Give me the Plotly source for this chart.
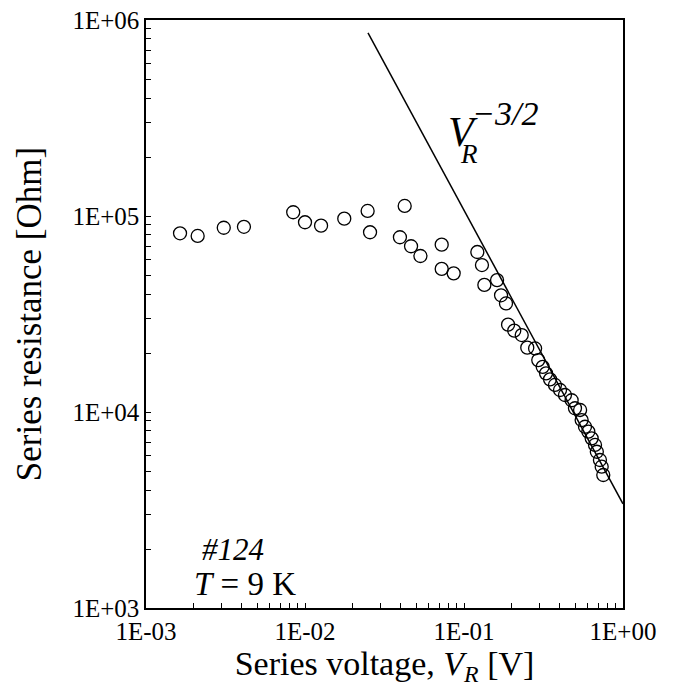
import plotly.graph_objects as go

voltage = [0.001637, 0.002113, 0.003084, 0.00413, 0.00843, 0.0100, 0.01262, 0.01766,
           0.02477, 0.02565, 0.04236, 0.03954, 0.04645, 0.0532, 0.0724, 0.0724, 0.0861,
           0.1213, 0.1297, 0.1343, 0.1614, 0.1710, 0.1837, 0.1893, 0.2070, 0.2307,
           0.2500, 0.2800, 0.2931, 0.3126, 0.3281, 0.3476, 0.3733, 0.4018, 0.4315,
           0.4753, 0.4989, 0.5373, 0.5495, 0.5768, 0.6053, 0.6353, 0.6668, 0.6845,
           0.7161, 0.7344, 0.7516]
resistance = [81600, 79100, 87100, 88100, 104500, 92900, 89300, 96900,
              106100, 82600, 112500, 77900, 70100, 62500, 71400, 53700, 51000,
              65500, 56200, 44500, 47100, 39400, 35800, 27900, 26000, 24700,
              21300, 21100, 18400, 17000, 15750, 14680, 13740, 12950, 12210,
              11480, 10450, 10240, 9100, 8410, 7940, 7340, 6790, 6270,
              5690, 5260, 4770]

# Power-law guide line V_R^(-3/2): endpoints
line_v = [0.0249, 1.0]
line_r = [859000, 3400]

x_decades = [0.001, 0.01, 0.1, 1.0]
x_labels = ["1E-03", "1E-02", "1E-01", "1E+00"]
y_decades = [1e3, 1e4, 1e5, 1e6]
y_labels = ["1E+03", "1E+04", "1E+05", "1E+06"]


def minor_vals(decades):
    return [d * k for d in decades[:-1] for k in range(2, 10)]


FONT = "Liberation Serif, Times New Roman, serif"

fig = go.Figure()
fig.add_trace(go.Scatter(x=line_v, y=line_r, mode="lines",
                         line=dict(color="black", width=1.5), showlegend=False))
fig.add_trace(go.Scatter(x=voltage, y=resistance, mode="markers",
                         marker=dict(symbol="circle-open", size=13,
                                     color="black", line=dict(width=1.3)),
                         showlegend=False))

axis_common = dict(type="log", showgrid=False, zeroline=False, showline=True,
                   linecolor="black", linewidth=1.5, mirror=True,
                   ticks="inside", ticklen=5, tickwidth=1.2, tickcolor="black",
                   tickangle=0, tickmode="array",
                   tickfont=dict(family=FONT, size=25, color="black"))

fig.update_xaxes(range=[-3, 0], tickvals=x_decades, ticktext=x_labels,
                 minor=dict(tickmode="array", tickvals=minor_vals(x_decades),
                            ticks="inside", ticklen=5, tickwidth=1.2,
                            tickcolor="black", showgrid=False),
                 title=dict(text="Series voltage, <i>V</i><sub><i>R</i></sub> [V]",
                            font=dict(family=FONT, size=34, color="black"),
                            standoff=0),
                 **axis_common)
fig.update_yaxes(range=[3, 6], tickvals=y_decades, ticktext=y_labels,
                 minor=dict(tickmode="array", tickvals=minor_vals(y_decades),
                            ticks="inside", ticklen=5, tickwidth=1.2,
                            tickcolor="black", showgrid=False),
                 title=dict(text="Series resistance [Ohm]",
                            font=dict(family=FONT, size=35, color="black"),
                            standoff=20),
                 **axis_common)

# Plot area in page pixels (the page body adds an 8px margin)
OFF = 8
PL, PT, PR, PB = 146, 20, 623, 608
W, H = 673 - OFF, 691 - OFF
pw, ph = PR - PL, PB - PT

annos = [
    dict(x=446, y=157, text="<i>V</i>", size=42),
    dict(x=458, y=171, text="<i>R</i>", size=27),
    dict(x=470, y=134, text="<i>\u22123/2</i>", size=34),
    dict(x=200, y=569, text="<i>#124</i>", size=31),
    dict(x=192, y=604, text="<i>T</i> = 9 K", size=33),
]
for a in annos:
    fig.add_annotation(x=(a["x"] - PL) / pw, y=1 - (a["y"] - PT) / ph,
                       xref="paper", yref="paper", text=a["text"], showarrow=False,
                       xanchor="left", yanchor="bottom",
                       font=dict(family=FONT, size=a["size"], color="black"))

fig.update_layout(width=W, height=H,
                  margin=dict(l=PL - OFF, r=W + OFF - PR, t=PT - OFF,
                              b=H + OFF - PB, autoexpand=False),
                  plot_bgcolor="white", paper_bgcolor="white",
                  font=dict(family=FONT, color="black"))

fig.write_html("out.html")
